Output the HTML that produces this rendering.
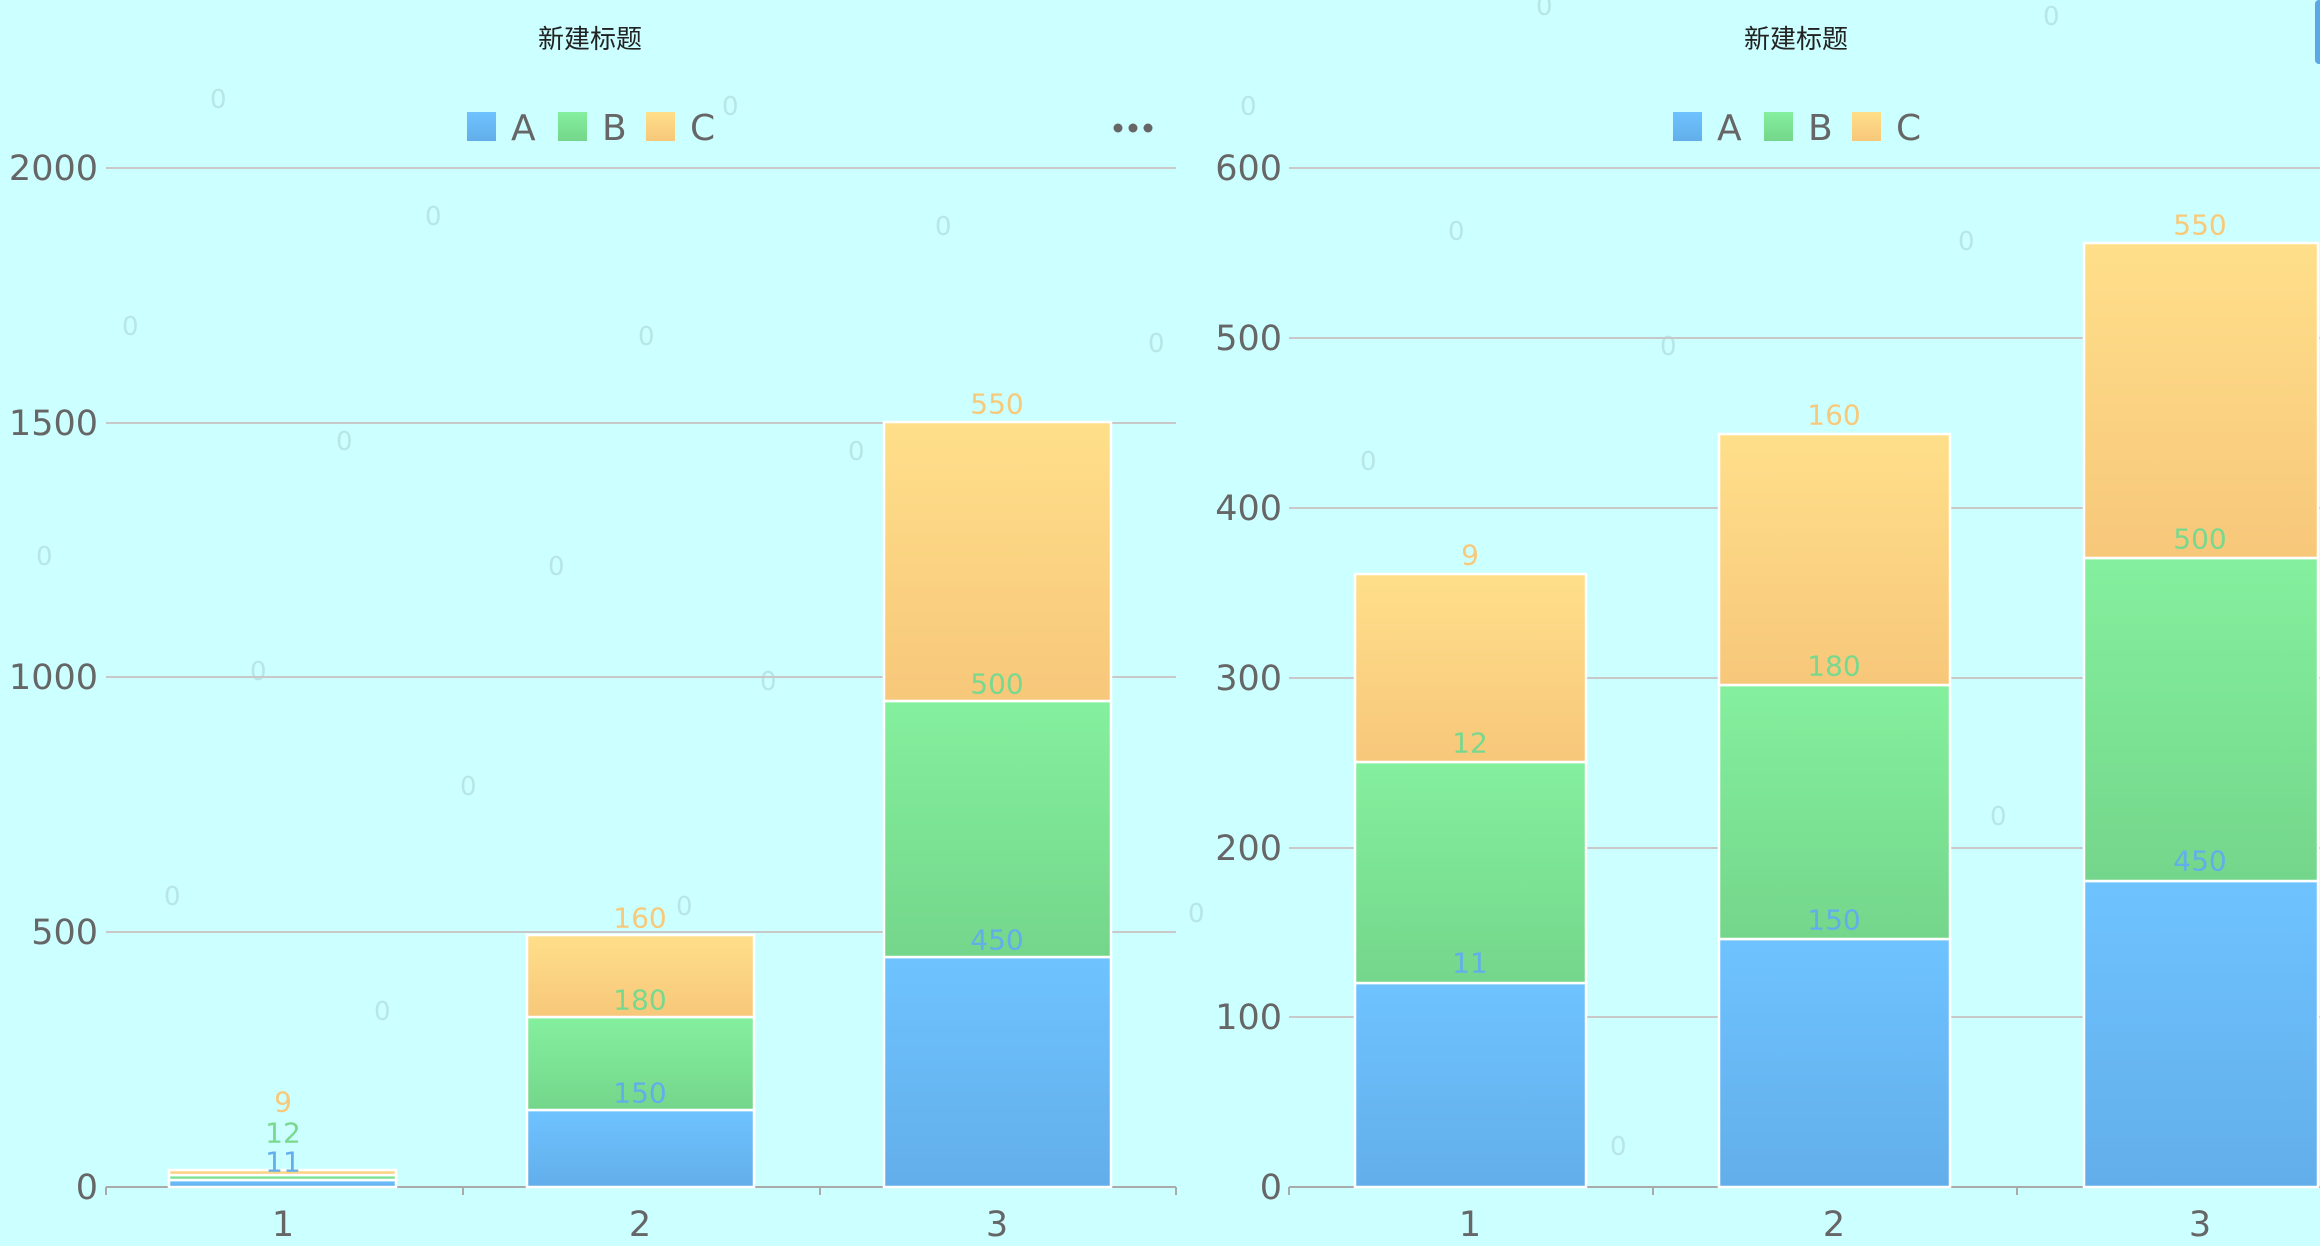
<!DOCTYPE html>
<html><head><meta charset="utf-8"><style>
html,body{margin:0;padding:0;background:#ccffff;}
svg{display:block;}
text{font-family:"DejaVu Sans","Liberation Sans",sans-serif;}
.ax{fill:#666;font-size:35px;}
.ttl{font-family:"Liberation Sans","Noto Sans CJK SC",sans-serif;font-size:26px;fill:#222;}
.lg{fill:#666;font-size:36px;}
.lb{font-size:28px;}
.wm{fill:#b8e6e6;font-size:26px;}
</style></head><body>
<svg width="2320" height="1246" viewBox="0 0 2320 1246" xmlns="http://www.w3.org/2000/svg">
<defs>
<linearGradient id="gA" x1="0" y1="0" x2="0" y2="1"><stop offset="0" stop-color="#6ec3ff"/><stop offset="1" stop-color="#62aeea"/></linearGradient>
<linearGradient id="gB" x1="0" y1="0" x2="0" y2="1"><stop offset="0" stop-color="#84f09e"/><stop offset="1" stop-color="#74d68b"/></linearGradient>
<linearGradient id="gC" x1="0" y1="0" x2="0" y2="1"><stop offset="0" stop-color="#ffdf8a"/><stop offset="1" stop-color="#f7c77a"/></linearGradient>
</defs>
<rect width="2320" height="1246" fill="#ccffff"/>
<!-- watermarks -->
<g class="wm">
<text x="210" y="108">0</text><text x="722" y="115">0</text><text x="425" y="225">0</text><text x="935" y="235">0</text>
<text x="122" y="335">0</text><text x="638" y="345">0</text><text x="1148" y="352">0</text><text x="336" y="450">0</text>
<text x="848" y="460">0</text><text x="36" y="565">0</text><text x="548" y="575">0</text><text x="1062" y="583">0</text>
<text x="250" y="680">0</text><text x="760" y="690">0</text><text x="460" y="795">0</text><text x="970" y="805">0</text>
<text x="164" y="905">0</text><text x="676" y="915">0</text><text x="1188" y="922">0</text><text x="374" y="1020">0</text>
<text x="1240" y="115">0</text><text x="1448" y="240">0</text><text x="1958" y="250">0</text><text x="1660" y="355">0</text>
<text x="2170" y="365">0</text><text x="1360" y="470">0</text><text x="1872" y="480">0</text><text x="2170" y="715">0</text>
<text x="1480" y="810">0</text><text x="1990" y="825">0</text><text x="1392" y="1040">0</text><text x="1905" y="1050">0</text>
<text x="2120" y="1165">0</text><text x="1610" y="1155">0</text><text x="2043" y="25">0</text><text x="1536" y="15">0</text>
</g>
<!-- LEFT CHART -->
<text class="ttl" x="590" y="48" text-anchor="middle">新建标题</text>
<rect x="467" y="112" width="29" height="29" fill="url(#gA)"/><text class="lg" x="511" y="140">A</text>
<rect x="558" y="112" width="29" height="29" fill="url(#gB)"/><text class="lg" x="602" y="140">B</text>
<rect x="646" y="112" width="29" height="29" fill="url(#gC)"/><text class="lg" x="690" y="140">C</text>
<g fill="#666"><circle cx="1118" cy="128" r="4.5"/><circle cx="1133" cy="128" r="4.5"/><circle cx="1148" cy="128" r="4.5"/></g>
<g stroke="#c8c8c8" stroke-width="2">
<line x1="106" y1="168" x2="1176" y2="168"/><line x1="106" y1="423" x2="1176" y2="423"/>
<line x1="106" y1="677" x2="1176" y2="677"/><line x1="106" y1="932" x2="1176" y2="932"/>
</g>
<g stroke="#aaa" stroke-width="2"><line x1="106" y1="1187" x2="1176" y2="1187"/>
<line x1="106" y1="1187" x2="106" y2="1195"/><line x1="463" y1="1187" x2="463" y2="1195"/><line x1="820" y1="1187" x2="820" y2="1195"/><line x1="1176" y1="1187" x2="1176" y2="1195"/></g>
<g class="ax" text-anchor="end">
<text x="98" y="180">2000</text><text x="98" y="435">1500</text><text x="98" y="689">1000</text><text x="98" y="944">500</text><text x="98" y="1199">0</text>
</g>
<g class="ax" text-anchor="middle"><text x="283" y="1236">1</text><text x="640" y="1236">2</text><text x="997" y="1236">3</text></g>
<g stroke="#fff" stroke-width="2.5">
<rect x="169" y="1180" width="227" height="7" fill="url(#gA)"/><rect x="169" y="1175" width="227" height="5" fill="url(#gB)"/><rect x="169" y="1170" width="227" height="5" fill="url(#gC)"/>
<rect x="527" y="1110" width="227" height="77" fill="url(#gA)"/><rect x="527" y="1017" width="227" height="93" fill="url(#gB)"/><rect x="527" y="935" width="227" height="82" fill="url(#gC)"/>
<rect x="884" y="957" width="227" height="230" fill="url(#gA)"/><rect x="884" y="701" width="227" height="256" fill="url(#gB)"/><rect x="884" y="422" width="227" height="279" fill="url(#gC)"/>
</g>
<g class="lb" text-anchor="middle" dominant-baseline="central">
<text x="283" y="1102" fill="#f7c97a">9</text><text x="283" y="1133" fill="#78d98e">12</text><text x="283" y="1162" fill="#62aeea">11</text>
<text x="640" y="918" fill="#f7c97a">160</text><text x="640" y="1000" fill="#78d98e">180</text><text x="640" y="1093" fill="#62aeea">150</text>
<text x="997" y="404" fill="#f7c97a">550</text><text x="997" y="684" fill="#78d98e">500</text><text x="997" y="940" fill="#62aeea">450</text>
</g>
<!-- RIGHT CHART -->
<text class="ttl" x="1796" y="48" text-anchor="middle">新建标题</text>
<rect x="1673" y="112" width="29" height="29" fill="url(#gA)"/><text class="lg" x="1717" y="140">A</text>
<rect x="1764" y="112" width="29" height="29" fill="url(#gB)"/><text class="lg" x="1808" y="140">B</text>
<rect x="1852" y="112" width="29" height="29" fill="url(#gC)"/><text class="lg" x="1896" y="140">C</text>
<rect x="2315" y="0" width="8" height="64" rx="4" fill="#5aa8e6"/>
<g stroke="#c8c8c8" stroke-width="2">
<line x1="1289" y1="168" x2="2320" y2="168"/><line x1="1289" y1="338" x2="2320" y2="338"/>
<line x1="1289" y1="508" x2="2320" y2="508"/><line x1="1289" y1="678" x2="2320" y2="678"/>
<line x1="1289" y1="848" x2="2320" y2="848"/><line x1="1289" y1="1017" x2="2320" y2="1017"/>
</g>
<g stroke="#aaa" stroke-width="2"><line x1="1289" y1="1187" x2="2320" y2="1187"/>
<line x1="1289" y1="1187" x2="1289" y2="1195"/><line x1="1653" y1="1187" x2="1653" y2="1195"/><line x1="2017" y1="1187" x2="2017" y2="1195"/></g>
<g class="ax" text-anchor="end">
<text x="1282" y="180">600</text><text x="1282" y="350">500</text><text x="1282" y="520">400</text><text x="1282" y="690">300</text><text x="1282" y="860">200</text><text x="1282" y="1029">100</text><text x="1282" y="1199">0</text>
</g>
<g class="ax" text-anchor="middle"><text x="1470" y="1236">1</text><text x="1834" y="1236">2</text><text x="2200" y="1236">3</text></g>
<g stroke="#fff" stroke-width="2.5">
<rect x="1355" y="983" width="231" height="204" fill="url(#gA)"/><rect x="1355" y="762" width="231" height="221" fill="url(#gB)"/><rect x="1355" y="574" width="231" height="188" fill="url(#gC)"/>
<rect x="1719" y="939" width="231" height="248" fill="url(#gA)"/><rect x="1719" y="685" width="231" height="254" fill="url(#gB)"/><rect x="1719" y="434" width="231" height="251" fill="url(#gC)"/>
<rect x="2084" y="881" width="234" height="306" fill="url(#gA)"/><rect x="2084" y="558" width="234" height="323" fill="url(#gB)"/><rect x="2084" y="243" width="234" height="315" fill="url(#gC)"/>
</g>
<g class="lb" text-anchor="middle" dominant-baseline="central">
<text x="1470" y="555" fill="#f7c97a">9</text><text x="1470" y="743" fill="#78d98e">12</text><text x="1470" y="963" fill="#62aeea">11</text>
<text x="1834" y="415" fill="#f7c97a">160</text><text x="1834" y="666" fill="#78d98e">180</text><text x="1834" y="920" fill="#62aeea">150</text>
<text x="2200" y="225" fill="#f7c97a">550</text><text x="2200" y="539" fill="#78d98e">500</text><text x="2200" y="861" fill="#62aeea">450</text>
</g>
</svg>
</body></html>
